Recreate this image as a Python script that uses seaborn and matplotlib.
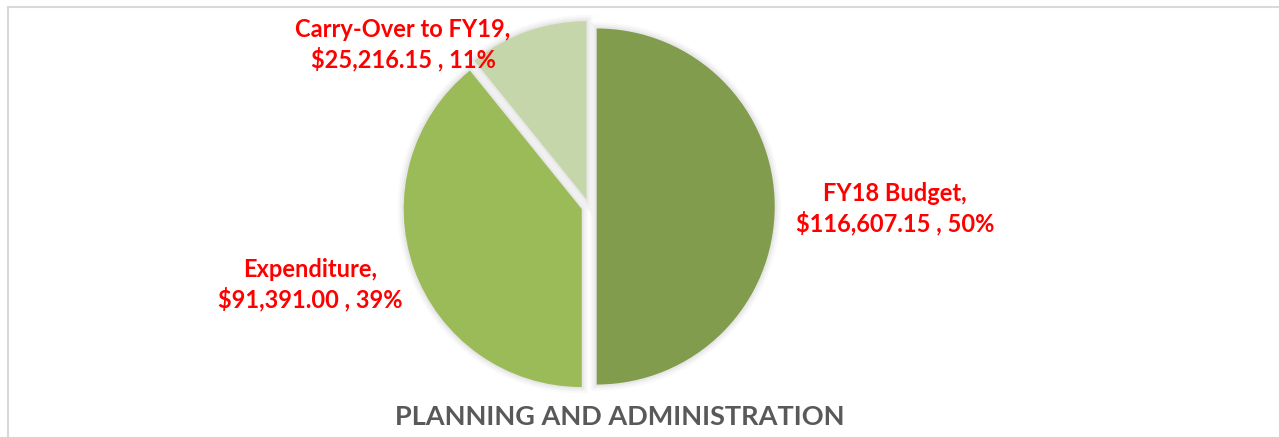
import numpy as np
import pandas as pd
import matplotlib.pyplot as plt
import matplotlib.patheffects as pe
from matplotlib.patches import Rectangle
import seaborn as sns

# datos del grafico
categorias = ["FY18 Budget", "Expenditure", "Carry-Over to FY19"]
montos = [116607.15, 91391.00, 25216.15]
porcentajes = ["50%", "39%", "11%"]
titulo = "PLANNING AND ADMINISTRATION"

colores = sns.color_palette(["#809C4C", "#9BBB59", "#C5D6AB"])

sns.set_theme(style="white")
plt.rcParams['font.family'] = ['Lato', 'DejaVu Sans']

fig = plt.figure(figsize=(12.79, 4.37), dpi=100)
ax = fig.add_axes([0, 0, 1, 1])

# marco gris
ax.add_patch(Rectangle((8, -20), 1300, 450, fill=False, ec="#D9D9D9", lw=1.5))

# sombra suave alrededor de cada porcion
sombra = [pe.Stroke(linewidth=9, foreground="black", alpha=0.025),
          pe.Stroke(linewidth=6, foreground="black", alpha=0.03),
          pe.Stroke(linewidth=3, foreground="black", alpha=0.04),
          pe.Normal()]

desfase = (7.7, 7.7, 7.7)
cuñas, _ = ax.pie(montos, colors=colores, startangle=90, counterclock=False,
                  explode=desfase, center=(589, 230.5), radius=178,
                  wedgeprops=dict(linewidth=0), frame=True)
for c in cuñas:
    c.set_path_effects(sombra)

ax.set_xlim(0, 1279)
ax.set_ylim(0, 437)
ax.set_aspect('equal')
ax.axis('off')

# etiquetas
pos_etiquetas = [(895, 228.5), (310, 152), (403, 392)]
for cat, m, p, (x, y) in zip(categorias, montos, porcentajes, pos_etiquetas):
    ax.text(x, y, f"{cat},\n${m:,.2f} , {p}", ha="center", va="center",
            color="#FF0000", fontsize=17, fontweight="bold", linespacing=1.3)

ax.text(620, 20, titulo, ha="center", va="center", color="#595959",
        fontsize=19.5, fontweight="bold")

plt.savefig("out.png", dpi=100)
